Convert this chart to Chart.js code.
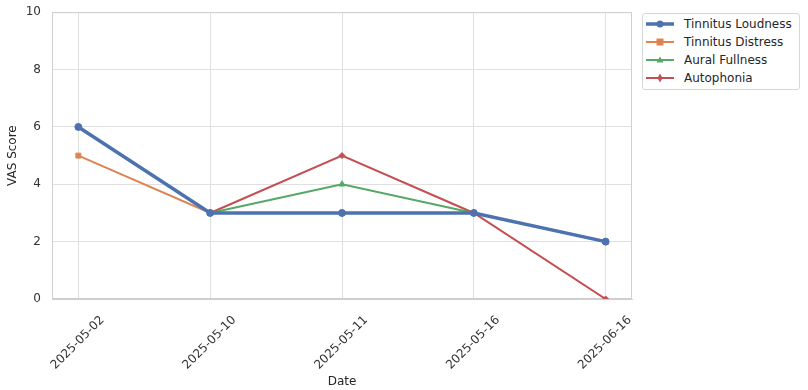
<!DOCTYPE html>
<html>
<head>
<meta charset="utf-8">
<script src="https://cdn.jsdelivr.net/npm/chart.js@4"></script>
<style>
  body { margin: 0; background: #fff; }
  #wrap { position: relative; width: 808px; height: 390px; }
  #legend {
    position: absolute; left: 642px; top: 13px; width: 156px;
    border: 1px solid #d6d6d6; border-radius: 3px; background: #fff;
    font-family: "DejaVu Sans", sans-serif; font-size: 12px; color: #262626;
    padding: 1px 0 2px 0; white-space: nowrap;
  }
  .item { display: flex; align-items: center; height: 18px; }
  .item svg { margin-left: 3px; margin-right: 10px; }
</style>
</head>
<body>
<div id="wrap">
  <canvas id="chart" width="808" height="390"></canvas>
  <div id="legend"></div>
</div>
<script>
const dates = ['2025-05-02', '2025-05-10', '2025-05-11', '2025-05-16', '2025-06-16'];
const loudness = [6, 3, 3, 3, 2];
const distress = [5, 3, 3, 3, 2];
const fullness = [null, 3, 4, 3, 2];
const autophonia = [null, 3, 5, 3, 0];
const yTicks = [0, 2, 4, 6, 8, 10];

const series = [
  { label: 'Tinnitus Loudness', data: loudness, color: '#4c72b0', width: 3.5, style: 'circle', r: 3.5 },
  { label: 'Tinnitus Distress', data: distress, color: '#dd8452', width: 2, style: 'rect', r: 3.5 },
  { label: 'Aural Fullness', data: fullness, color: '#55a868', width: 2, style: 'triangle', r: 3.5 },
  { label: 'Autophonia', data: autophonia, color: '#c44e52', width: 2, style: 'rectRot', r: 3 }
];

// full box around the plot, like the seaborn spines
const frame = {
  id: 'frame',
  beforeDatasetsDraw(chart) {
    const { ctx, chartArea: a } = chart;
    ctx.save();
    ctx.strokeStyle = '#cfcfcf';
    ctx.lineWidth = 1;
    ctx.strokeRect(a.left + 0.5, a.top + 0.5, a.right - a.left - 1, a.bottom - a.top - 1);
    ctx.restore();
  }
};

const ctx = document.getElementById('chart').getContext('2d');
new Chart(ctx, {
  type: 'line',
  data: {
    datasets: series.map((s, k) => ({
      label: s.label,
      data: s.data.map((v, i) => ({ x: i, y: v })),
      borderColor: s.color,
      backgroundColor: s.color,
      borderWidth: s.width,
      pointStyle: s.style,
      pointRadius: s.r,
      pointBorderWidth: 1,
      spanGaps: false,
      tension: 0,
      order: k
    }))
  },
  plugins: [frame],
  options: {
    responsive: false,
    animation: false,
    layout: { padding: { top: 1, right: 176, left: 0, bottom: 0 } },
    plugins: { legend: { display: false }, tooltip: { enabled: false } },
    scales: {
      x: {
        type: 'linear',
        min: -0.2,
        max: 4.2,
        afterBuildTicks: axis => { axis.ticks = dates.map((d, i) => ({ value: i })); },
        afterFit: axis => { axis.height = 91; },
        grid: { color: '#e0e0e0', lineWidth: 1, drawTicks: false },
        border: { color: '#cfcfcf', width: 1 },
        ticks: {
          callback: (v) => dates[v],
          minRotation: 45, maxRotation: 45,
          labelOffset: 24, padding: 14,
          color: '#333', font: { family: 'DejaVu Sans', size: 12 }
        },
        title: { display: true, text: 'Date', color: '#262626', padding: { top: 0, bottom: 1 },
                 font: { family: 'DejaVu Sans', size: 12 } }
      },
      y: {
        min: 0, max: 10,
        afterBuildTicks: axis => { axis.ticks = yTicks.map(v => ({ value: v })); },
        afterFit: axis => { axis.width = 52; },
        grid: { color: '#e0e0e0', lineWidth: 1, drawTicks: true, tickLength: 6, tickColor: 'rgba(0,0,0,0)' },
        border: { color: '#cfcfcf', width: 1 },
        ticks: { padding: 5, color: '#333', font: { family: 'DejaVu Sans', size: 12 } },
        title: { display: true, text: 'VAS Score', color: '#262626', padding: { top: 6, bottom: 4 },
                 font: { family: 'DejaVu Sans', size: 12 } }
      }
    }
  }
});

// legend
const legend = document.getElementById('legend');
series.forEach(s => {
  let marker = '';
  if (s.style === 'circle') marker = '<circle cx="14" cy="6" r="3.5" fill="' + s.color + '"/>';
  if (s.style === 'rect') marker = '<rect x="10.5" y="2.5" width="7" height="7" fill="' + s.color + '"/>';
  if (s.style === 'triangle') marker = '<polygon points="14,2.5 17.5,8.5 10.5,8.5" fill="' + s.color + '"/>';
  if (s.style === 'rectRot') marker = '<polygon points="14,1.5 16.5,6 14,10.5 11.5,6" fill="' + s.color + '"/>';
  const item = document.createElement('div');
  item.className = 'item';
  item.innerHTML = '<svg width="28" height="12"><line x1="0" y1="6" x2="28" y2="6" stroke="' + s.color +
    '" stroke-width="' + s.width + '"/>' + marker + '</svg><span>' + s.label + '</span>';
  legend.appendChild(item);
});
</script>
</body>
</html>
